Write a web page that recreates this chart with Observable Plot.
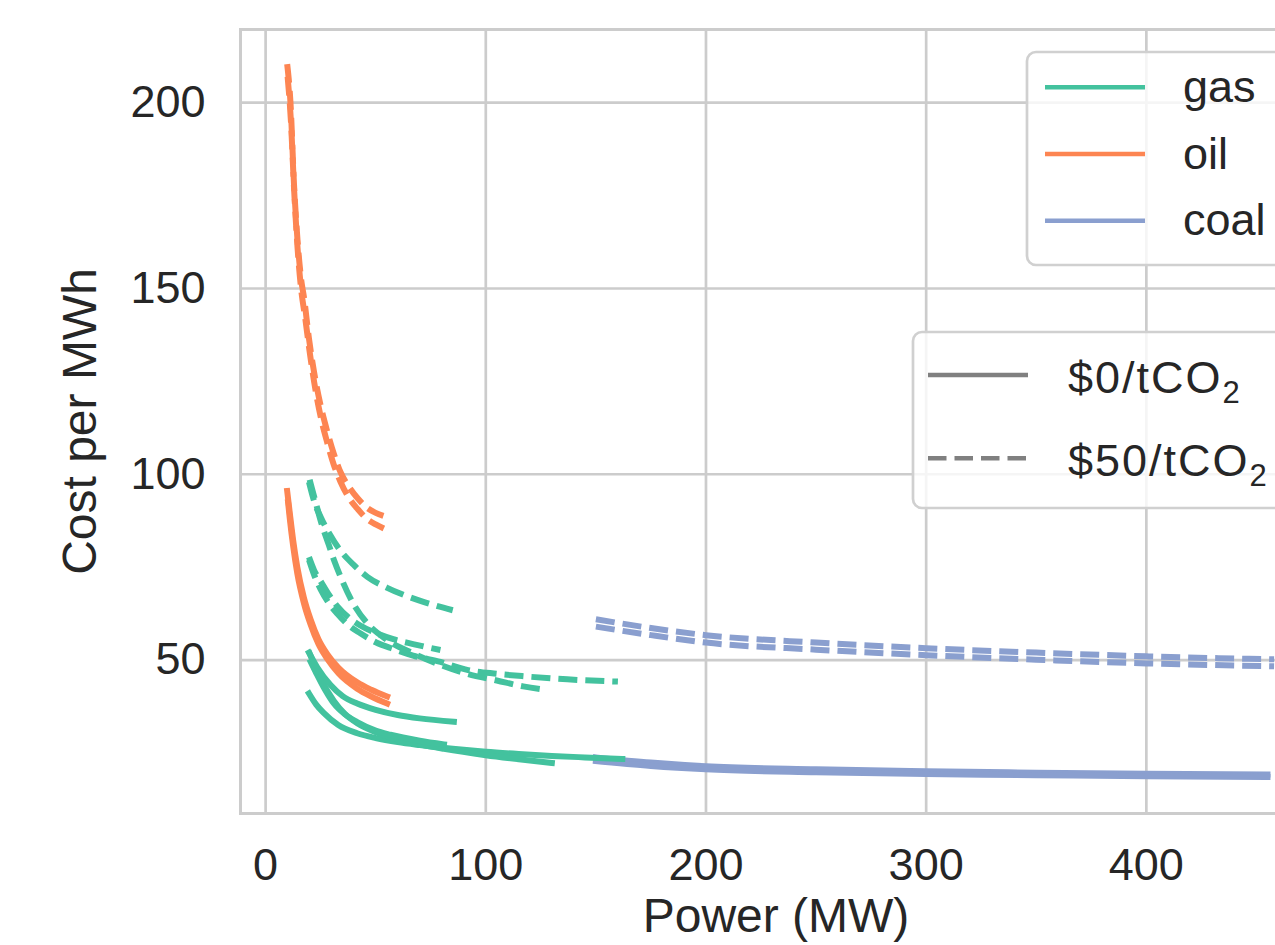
<!DOCTYPE html>
<html><head><meta charset="utf-8">
<script src="https://cdn.jsdelivr.net/npm/d3@7"></script>
<script src="https://cdn.jsdelivr.net/npm/@observablehq/plot@0.6"></script>
<style>
html,body{margin:0;padding:0;background:#fff;overflow:hidden;}
#wrap{position:relative;width:1275px;height:945px;overflow:hidden;background:#fff;}
#wrap > svg{position:absolute;left:0;top:0;}
</style></head>
<body><div id="wrap"></div>
<script>
// ---- categories / legend labels / ticks ----
const fuels = ["gas", "oil", "coal"];
const fuelColors = ["#43c29e", "#fd8552", "#8a9fcf"];
const prices = ["$0/tCO2", "$50/tCO2"];
const xTicks = [0, 100, 200, 300, 400];
const yTicks = [50, 100, 150, 200];

// ---- gas units, $0/tCO2 (solid) : [power MW, cost per MWh] ----
const gas85_0  = [[19.7,52.0],[23.5,48.0],[29.5,43.3],[35,40.3],[41.6,38.3],[50,36.6],[60,35.2],[70,34.3],[85.5,33.4]];
const gas80_0  = [[20.5,49.5],[23,46.5],[27,42],[31,38.3],[36,35.4],[41.6,33.3],[50,31],[56.7,29.9],[70,28.3],[81,27.3]];
const gas130_0 = [[20,51.8],[25,45],[31,39],[36,35.5],[41.6,33],[50,30.6],[56.7,29.2],[70,27.3],[81,26.1],[100,24.4],[115,23.3],[130,22.3]];
const gas160_0 = [[19.7,41],[23,38],[26.5,35.7],[33,32.5],[41.6,30.3],[50,29],[60,27.9],[70,27.1],[85,26.1],[100,25.3],[115,24.7],[130,24.2],[145,23.8],[162,23.4]];
// ---- gas units, $50/tCO2 (dashed) ----
const gas85_50  = [[19.7,97.9],[22,92.8],[25,88.5],[29,84],[33.3,80],[40,75.6],[46.2,72.4],[55,69.5],[62.8,67.5],[72,65.6],[85,63.4]];
const gas80_50  = [[19.7,77.7],[22,74.2],[25,71.2],[28.5,67.8],[32.5,64.5],[38,61.3],[43,59.3],[50,57.3],[58,55.6],[67,54.3],[79.4,52.7]];
const gas130_50 = [[20,98.5],[22.5,93],[25,87.5],[28.7,81],[31,77],[34,72.5],[40,65],[46,60],[55,55.5],[67,51.8],[79.4,48.7],[92,46.2],[105,44.5],[117,42.9],[128,41.9]];
const gas160_50 = [[19.7,77],[22,73],[25,69],[28.5,65.5],[32.5,62.5],[38,59.2],[43,57.2],[50,54.8],[58,53],[67,51.2],[79.4,49.5],[92,47.3],[105,46.3],[118,45.6],[137,44.8],[160,44.2]];
// ---- oil units ----
const oilA_0  = [[9.8,95.5],[11,89.5],[12.5,82.3],[14.4,75],[17.4,66.8],[20.4,61],[24,55.6],[28,51.6],[33,48],[41.6,44],[48,42],[55.2,40.2]];
const oilB_0  = [[10.2,92.5],[11,88],[12.5,80.7],[14.4,73.3],[17.4,65.3],[20.4,59.6],[24,54.3],[28,50.3],[33,46.5],[41.6,42.3],[48,40.2],[55.2,38.3]];
const oilA_50 = [[9.8,210.4],[11.3,200],[12.9,178],[14.5,163],[16.2,152.2],[17.4,147.7],[19.7,136.5],[22,127.5],[25,118.5],[28,111.5],[31,105.5],[34,100.6],[38,96.5],[42,93.4],[46,91],[50,89.6],[53.5,88.8]];
const oilB_50 = [[10,207],[11.5,195],[13,176],[14.5,161],[16.2,149.5],[18,142],[20,133],[22,125],[25,115.5],[28,108.5],[31,102.5],[34,98],[38,93.5],[42,90.5],[46,88],[50,86.5],[53.7,85.4]];
// ---- coal units ----
const coalA_0  = [[150,23.8],[175,22.4],[200,21.4],[250,20.6],[300,20.1],[350,19.7],[400,19.4],[455,19.2]];
const coalB_0  = [[150,22.8],[175,21.5],[200,20.6],[250,19.8],[300,19.3],[350,19.0],[400,18.7],[455,18.5]];
const coalA_50 = [[150,61.0],[175,58.6],[200,56.7],[250,54.7],[300,53.2],[350,52.0],[400,51.0],[458,50.2]];
const coalB_50 = [[150,59.0],[175,56.7],[200,54.7],[250,52.8],[300,51.3],[350,50.1],[400,49.1],[458,48.3]];

const series = [
  {fuel:"coal", price:prices[1], id:"coalA_50", pts:coalA_50},
  {fuel:"coal", price:prices[1], id:"coalB_50", pts:coalB_50},
  {fuel:"coal", price:prices[0], id:"coalA_0", pts:coalA_0},
  {fuel:"coal", price:prices[0], id:"coalB_0", pts:coalB_0},
  {fuel:"gas", price:prices[1], id:"gas85_50", pts:gas85_50},
  {fuel:"gas", price:prices[1], id:"gas80_50", pts:gas80_50},
  {fuel:"gas", price:prices[1], id:"gas130_50", pts:gas130_50},
  {fuel:"gas", price:prices[1], id:"gas160_50", pts:gas160_50},
  {fuel:"gas", price:prices[0], id:"gas160_0", pts:gas160_0},
  {fuel:"gas", price:prices[0], id:"gas130_0", pts:gas130_0},
  {fuel:"gas", price:prices[0], id:"gas80_0", pts:gas80_0},
  {fuel:"gas", price:prices[0], id:"gas85_0", pts:gas85_0},
  {fuel:"oil", price:prices[1], id:"oilA_50", pts:oilA_50},
  {fuel:"oil", price:prices[1], id:"oilB_50", pts:oilB_50},
  {fuel:"oil", price:prices[0], id:"oilA_0", pts:oilA_0},
  {fuel:"oil", price:prices[0], id:"oilB_0", pts:oilB_0}
];
const rows = series.flatMap(s => s.pts.map(([x, y]) => ({fuel: s.fuel, price: s.price, id: s.id, x, y})));
const dashedRows = rows.filter(d => d.price === prices[1]);
const solidRows = rows.filter(d => d.price === prices[0]);

const textColor = "#262626";
const font = "'Liberation Sans', Arial, Helvetica, sans-serif";
const lw = 6;

const chart = Plot.plot({
  width: 1311, height: 945,
  marginLeft: 240, marginRight: 0, marginTop: 29, marginBottom: 132,
  style: {fontFamily: font, fontSize: "45px", color: textColor, background: "white", maxWidth: "none", overflow: "hidden"},
  x: {domain: [-11.4, 475]},
  y: {domain: [8.7, 219.7]},
  color: {domain: fuels, range: fuelColors},
  marks: [
    Plot.gridX({ticks: xTicks, stroke: "#cccccc", strokeOpacity: 1, strokeWidth: 2.7}),
    Plot.gridY({ticks: yTicks, stroke: "#cccccc", strokeOpacity: 1, strokeWidth: 2.7}),
    Plot.frame({stroke: "#cccccc", strokeWidth: 3}),
    Plot.axisX({ticks: xTicks, tickSize: 0, tickPadding: 35, label: null, fontSize: 45}),
    Plot.axisY({ticks: yTicks, tickSize: 0, tickPadding: 35, label: null, fontSize: 45}),
    Plot.line(dashedRows, {x: "x", y: "y", z: "id", stroke: "fuel", strokeWidth: lw, strokeDasharray: "19,8", strokeLinecap: "butt", strokeLinejoin: "round", curve: "monotone-x"}),
    Plot.line(solidRows, {x: "x", y: "y", z: "id", stroke: "fuel", strokeWidth: lw, strokeLinecap: "square", strokeLinejoin: "round", curve: "monotone-x"}),
    Plot.text(["Power (MW)"], {frameAnchor: "bottom", textAnchor: "middle", lineAnchor: "middle", dy: 103, fontSize: 48, fill: textColor}),
    Plot.text(["Cost per MWh"], {frameAnchor: "left", textAnchor: "middle", lineAnchor: "middle", rotate: -90, dx: -159.4, fontSize: 48, fill: textColor})
  ]
});
const wrap = document.getElementById("wrap");
wrap.appendChild(chart);

// ---- legends (overlay) ----
const leg = d3.select(wrap).append("svg")
  .attr("width", 1275).attr("height", 945)
  .style("font-family", font).style("pointer-events", "none");

// fuel legend
leg.append("rect").attr("x", 1027).attr("y", 52).attr("width", 420).attr("height", 213).attr("rx", 9)
  .attr("fill", "white").attr("fill-opacity", 0.8).attr("stroke", "#d0d0d0").attr("stroke-width", 2.7);
const fuelY = [87.3, 154, 220.7];
fuels.forEach((f, i) => {
  leg.append("line").attr("x1", 1045).attr("x2", 1145).attr("y1", fuelY[i]).attr("y2", fuelY[i])
    .attr("stroke", fuelColors[i]).attr("stroke-width", 4.5);
  leg.append("text").attr("x", 1183).attr("y", fuelY[i] + 14.5).attr("font-size", 45).attr("fill", textColor).text(f);
});

// carbon price legend
leg.append("rect").attr("x", 913).attr("y", 332).attr("width", 520).attr("height", 176).attr("rx", 9)
  .attr("fill", "white").attr("fill-opacity", 0.8).attr("stroke", "#d0d0d0").attr("stroke-width", 2.7);
const priceY = [375, 458.3];
prices.forEach((p, i) => {
  leg.append("line").attr("x1", 928).attr("x2", 1028).attr("y1", priceY[i]).attr("y2", priceY[i])
    .attr("stroke", "#808080").attr("stroke-width", 4.5)
    .attr("stroke-dasharray", i === 1 ? "18.5,8" : null);
  const t = leg.append("text").attr("x", 1068).attr("y", priceY[i] + 17.5).attr("font-size", 45)
    .attr("letter-spacing", 2).attr("fill", textColor);
  t.append("tspan").text(p.slice(0, -1));
  t.append("tspan").attr("font-size", 31).attr("dy", 10).text(p.slice(-1));
});
</script>
</body></html>
